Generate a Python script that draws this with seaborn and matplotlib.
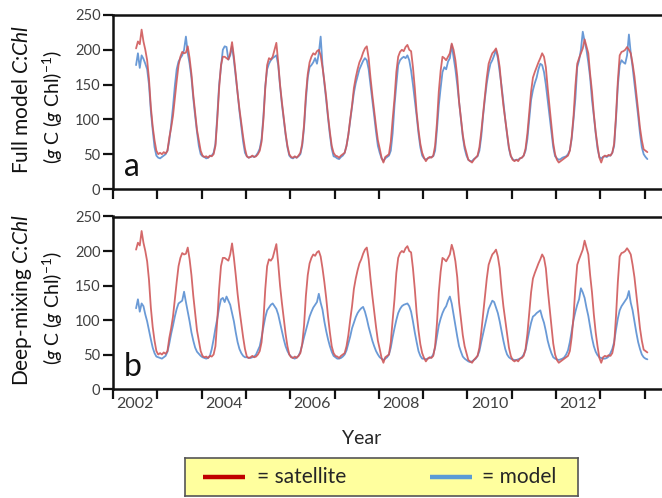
import numpy as np
import pandas as pd
import matplotlib
matplotlib.use("Agg")
import matplotlib.pyplot as plt
import seaborn as sns

# semi-monthly values, Jul 2002 .. Jan 2014 (one row per year)
satellite = [
    202, 212, 208, 229, 212, 200, 185, 158, 118, 90, 70, 55,
    50, 52, 50, 53, 51, 55, 74, 88, 105, 130, 155, 178, 190, 197, 195, 196, 205, 188, 165, 135, 110, 85, 70, 55,
    48, 46, 47, 45, 48, 47, 50, 62, 100, 145, 178, 190, 190, 188, 186, 195, 211, 190, 165, 138, 115, 95, 75, 58,
    47, 45, 46, 48, 46, 47, 50, 55, 68, 100, 145, 178, 188, 186, 190, 200, 210, 182, 150, 125, 103, 80, 62, 50,
    46, 45, 47, 45, 48, 52, 65, 92, 135, 165, 182, 190, 195, 193, 198, 200, 192, 175, 155, 132, 105, 82, 62, 52,
    48, 47, 45, 48, 50, 52, 62, 78, 100, 120, 145, 160, 172, 182, 188, 196, 202, 205, 188, 160, 135, 112, 90, 70,
    58, 45, 38, 46, 48, 50, 68, 100, 130, 168, 190, 197, 200, 198, 204, 207, 200, 198, 175, 145, 110, 85, 65, 52,
    45, 40, 44, 46, 45, 48, 62, 95, 140, 170, 190, 188, 185, 190, 195, 209, 200, 185, 162, 125, 102, 78, 62, 52,
    42, 40, 38, 42, 45, 48, 60, 82, 108, 135, 160, 180, 188, 195, 198, 202, 192, 175, 145, 120, 100, 80, 60, 48,
    42, 40, 42, 40, 44, 45, 48, 58, 80, 110, 140, 160, 168, 175, 182, 188, 195, 190, 175, 145, 118, 92, 66, 50,
    42, 38, 40, 42, 44, 46, 48, 55, 75, 105, 148, 180, 188, 195, 202, 215, 205, 195, 165, 140, 108, 82, 62, 45,
    38, 46, 48, 47, 49, 48, 52, 65, 105, 155, 192, 197, 198, 200, 204, 200, 195, 180, 162, 138, 113, 88, 70, 57,
    55, 53,
]

model_full = [
    178, 195, 174, 192, 187, 180, 172, 150, 112, 85, 60, 48,
    45, 44, 46, 48, 50, 55, 70, 92, 118, 148, 172, 183, 188, 192, 200, 219, 195, 180, 160, 130, 105, 82, 62, 50,
    47, 46, 44, 45, 47, 48, 52, 65, 105, 150, 175, 200, 205, 204, 186, 192, 205, 185, 162, 138, 112, 90, 68, 52,
    47, 45, 46, 47, 46, 48, 52, 58, 72, 105, 148, 172, 180, 185, 188, 190, 192, 178, 148, 122, 100, 78, 60, 48,
    45, 44, 46, 45, 47, 50, 62, 88, 128, 160, 175, 178, 182, 188, 180, 195, 219, 178, 152, 128, 102, 78, 58, 47,
    46, 44, 43, 46, 48, 52, 62, 78, 98, 118, 138, 152, 162, 172, 178, 184, 188, 185, 172, 150, 128, 105, 82, 62,
    52, 44, 40, 44, 46, 48, 55, 80, 120, 150, 178, 185, 188, 190, 188, 192, 185, 170, 150, 128, 105, 80, 60, 48,
    44, 42, 44, 45, 46, 47, 55, 85, 120, 145, 168, 175, 172, 183, 188, 207, 190, 172, 150, 125, 100, 75, 58, 48,
    42, 40, 40, 43, 45, 47, 55, 75, 105, 130, 152, 168, 180, 185, 192, 200, 188, 168, 148, 125, 100, 78, 58, 47,
    43, 41, 42, 42, 44, 45, 48, 55, 72, 100, 128, 142, 152, 160, 172, 180, 178, 168, 150, 128, 105, 82, 60, 47,
    44, 42, 43, 45, 46, 47, 50, 56, 72, 100, 130, 175, 185, 200, 226, 212, 200, 182, 160, 128, 105, 80, 58, 46,
    44, 46, 47, 46, 48, 48, 52, 62, 100, 148, 178, 185, 182, 180, 192, 222, 195, 175, 152, 128, 105, 80, 60, 50,
    46, 43,
]

model_deep = [
    117, 130, 112, 124, 120, 108, 98, 85, 72, 60, 52, 47,
    46, 45, 44, 46, 48, 54, 66, 80, 92, 105, 116, 124, 126, 128, 141, 126, 112, 98, 82, 70, 60, 54, 51, 48,
    46, 45, 44, 45, 48, 58, 72, 88, 102, 118, 130, 132, 126, 134, 128, 122, 110, 98, 82, 68, 58, 52, 48, 46,
    46, 45, 45, 46, 47, 50, 56, 62, 75, 90, 104, 114, 118, 122, 124, 120, 116, 108, 96, 84, 72, 62, 55, 50,
    47, 45, 44, 46, 48, 54, 64, 75, 85, 95, 105, 112, 118, 122, 126, 138, 125, 115, 98, 84, 72, 62, 54, 48,
    46, 44, 44, 45, 47, 50, 56, 66, 76, 88, 96, 104, 110, 114, 117, 119, 112, 102, 90, 80, 70, 62, 55, 50,
    46, 44, 42, 44, 46, 50, 60, 75, 88, 100, 110, 116, 120, 122, 123, 124, 120, 112, 98, 82, 68, 55, 48, 44,
    44, 43, 44, 45, 46, 50, 60, 76, 92, 102, 110, 116, 120, 128, 134, 124, 108, 92, 76, 62, 54, 47, 44, 42,
    40, 39, 40, 42, 44, 48, 55, 68, 80, 92, 104, 116, 122, 128, 126, 118, 110, 98, 84, 70, 58, 50, 46, 44,
    43, 42, 42, 43, 44, 46, 50, 56, 70, 84, 96, 105, 107, 110, 112, 114, 104, 96, 84, 70, 60, 52, 46, 44,
    43, 42, 43, 44, 46, 50, 56, 68, 84, 100, 112, 122, 130, 146, 140, 132, 118, 106, 90, 74, 62, 54, 49, 46,
    45, 44, 44, 45, 47, 52, 58, 68, 86, 102, 114, 120, 124, 128, 132, 142, 125, 114, 98, 82, 68, 58, 50, 46,
    44, 43,
]

year_ticks = list(range(2002, 2015))
year_labels = ["2002", "2004", "2006", "2008", "2010", "2012"]
y_ticks = [0, 50, 100, 150, 200, 250]

# time axis: semi-monthly steps starting July 2002
t = 2002.5 + (np.arange(len(satellite)) + 0.5) / 24
df = pd.DataFrame({"t": t, "satellite": satellite, "full": model_full, "deep": model_deep})

sns.set_style("ticks")
plt.rcParams["font.family"] = ["Lato", "DejaVu Sans"]
plt.rcParams["mathtext.fontset"] = "custom"
plt.rcParams["mathtext.rm"] = "Lato"
plt.rcParams["mathtext.it"] = "Lato:italic"

red = "#d0595a"
blue = "#5a8fd2"

fig = plt.figure(figsize=(6.62, 4.98), dpi=100)
W, H = 662, 498
ax_a = fig.add_axes([113 / W, 1 - 189 / H, (W - 113) / W, 174 / H])
ax_b = fig.add_axes([113 / W, 1 - 389 / H, (W - 113) / W, 172.5 / H])

panels = [(ax_a, "full", "a", "Full model $\\mathit{C}$:$\\mathit{Chl}$"),
          (ax_b, "deep", "b", "Deep-mixing $\\mathit{C}$:$\\mathit{Chl}$")]
for ax, col, letter, lab in panels:
    sns.lineplot(data=df, x="t", y=col, color=blue, lw=1.3, alpha=0.9, ax=ax)
    sns.lineplot(data=df, x="t", y="satellite", color=red, lw=1.3, alpha=0.9, ax=ax)
    ax.set_xlim(2002, 2002 + (W - 113) / 44.3)
    ax.set_ylim(0, 250)
    ax.set_yticks(y_ticks)
    ax.set_xticks(year_ticks)
    ax.set_xticklabels([])
    ax.set_xlabel("")
    ax.set_ylabel("")
    ax.spines["right"].set_visible(False)
    for s in ["left", "top", "bottom"]:
        ax.spines[s].set_linewidth(1.8)
        ax.spines[s].set_color("#111111")
    ax.tick_params(axis="both", which="major", length=7, width=1.6, color="#111111",
                   labelsize=10.5, labelcolor="#404040", pad=2)
    ax.text(0.02, 0.04, letter, transform=ax.transAxes, fontsize=23, color="#111111",
            ha="left", va="bottom")
    pos = ax.get_position()
    cy = (pos.y0 + pos.y1) / 2
    fig.text(22 / W, cy + 0.005, lab, fontsize=15, rotation=90,
             ha="center", va="center", color="#111111")
    fig.text(53 / W, cy - 0.01, "($\\mathit{g}$ C ($\\mathit{g}$ Chl)$^{-1}$)", fontsize=14,
             rotation=90, ha="center", va="center", color="#111111")

ax_b.set_xticks([y + 0.5 for y in range(2002, 2013, 2)], minor=True)
ax_b.set_xticklabels(year_labels, minor=True)
ax_b.tick_params(axis="x", which="minor", length=0, labelsize=11.5, labelcolor="#404040", pad=6)
ax_a.tick_params(axis="x", which="minor", length=0)

fig.text(362 / W, 1 - 438 / H, "Year", fontsize=14, ha="center", va="center", color="#262626")

# legend box
leg = fig.add_axes([185 / W, 1 - 496 / H, (578 - 185) / W, 38 / H])
leg.set_xlim(0, 393)
leg.set_ylim(0, 38)
leg.set_facecolor("#ffff9e")
for s in leg.spines.values():
    s.set_color("#555555")
    s.set_linewidth(1.2)
leg.set_xticks([])
leg.set_yticks([])
leg.plot([18, 60], [19, 19], color="#c00000", lw=3.2, solid_capstyle="butt")
leg.text(72, 19, "= satellite", fontsize=15, va="center", ha="left", color="#262626")
leg.plot([245, 287], [19, 19], color="#5b9bd5", lw=3.2, solid_capstyle="butt")
leg.text(297, 19, "= model", fontsize=15, va="center", ha="left", color="#262626")

fig.savefig("out.png", dpi=100)
